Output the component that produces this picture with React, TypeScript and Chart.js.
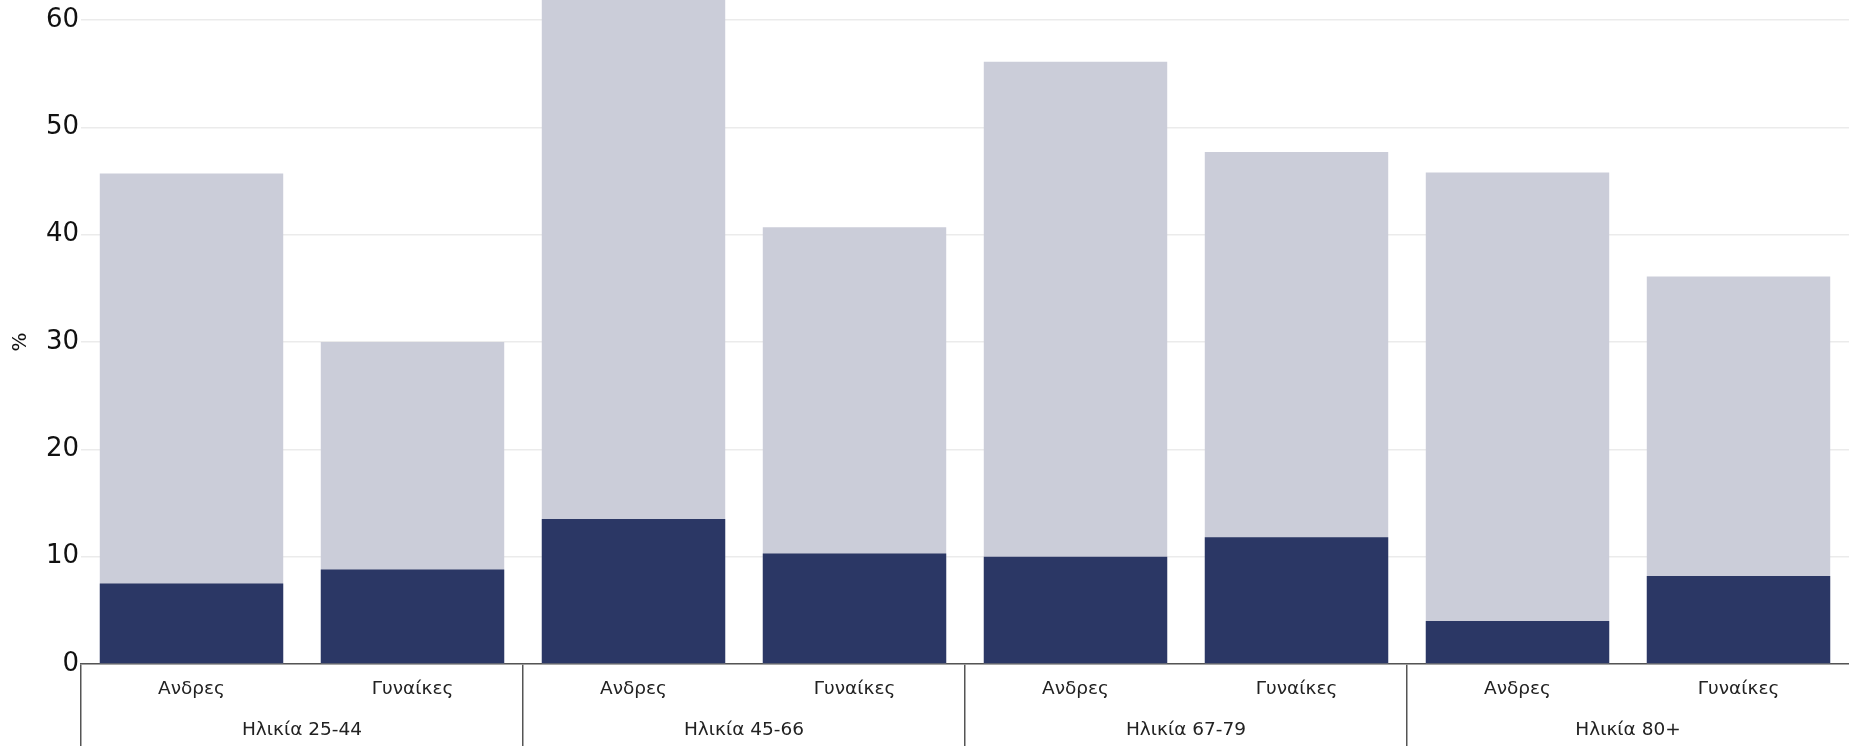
import React, { useEffect, useRef } from "react";
import { Chart, registerables } from "chart.js";

Chart.register(...registerables);

const categories = ["Ανδρες", "Γυναίκες", "Ανδρες", "Γυναίκες", "Ανδρες", "Γυναίκες", "Ανδρες", "Γυναίκες"];
const groups = ["Ηλικία 25-44", "Ηλικία 45-66", "Ηλικία 67-79", "Ηλικία 80+"];
const totalValues = [45.7, 30.0, 63.0, 40.7, 56.1, 47.7, 45.8, 36.1];
const darkValues = [7.5, 8.8, 13.5, 10.3, 10.0, 11.8, 4.0, 8.2];
const yMin = 0;
const yMax = 60;
const yStep = 10;
const yTitle = "%";

const DARK = "#2b3765";
const LIGHT = "#cbcdd9";
const AXIS = "#555555";

export default function App() {
  const canvasRef = useRef<HTMLCanvasElement | null>(null);

  useEffect(() => {
    if (!canvasRef.current) return;
    Chart.defaults.font.family = "'DejaVu Sans', sans-serif";
    const chart = new Chart(canvasRef.current, {
      type: "bar",
      data: {
        labels: categories,
        datasets: [
          {
            label: "dark",
            data: darkValues,
            backgroundColor: DARK,
            borderWidth: 0,
            categoryPercentage: 1,
            barPercentage: 0.83,
            clip: false as any,
          },
          {
            label: "light",
            data: totalValues,
            backgroundColor: LIGHT,
            borderWidth: 0,
            categoryPercentage: 1,
            barPercentage: 0.83,
            clip: false as any,
          },
        ],
      },
      options: {
        animation: false,
        responsive: true,
        maintainAspectRatio: false,
        layout: { padding: { top: 20, right: 0, bottom: 0, left: 0 } },
        plugins: { legend: { display: false }, tooltip: { enabled: false } },
        scales: {
          x: {
            stacked: true,
            offset: true,
            grid: {
              display: true,
              drawOnChartArea: false,
              drawTicks: true,
              tickLength: 82,
              offset: true,
              lineWidth: 1.5,
              color: (ctx: any) =>
                typeof ctx.index === "number" && ctx.index % 2 === 0 ? AXIS : "rgba(0,0,0,0)",
            },
            border: { display: true, color: AXIS, width: 1.5 },
            ticks: {
              font: { size: 18.5 },
              color: "#222222",
              padding: -67.5,
              autoSkip: false,
              maxRotation: 0,
            },
            afterFit: (s: any) => {
              s.height = 34;
            },
          },
          x2: {
            type: "category",
            labels: groups,
            position: "bottom",
            offset: true,
            grid: { display: false, drawTicks: false },
            border: { display: false },
            ticks: {
              font: { size: 18.5 },
              color: "#222222",
              padding: 21.5,
              autoSkip: false,
              maxRotation: 0,
            },
            afterFit: (s: any) => {
              s.height = 48;
            },
          },
          y: {
            min: yMin,
            max: yMax,
            ticks: { stepSize: yStep, font: { size: 26 }, color: "#111111", padding: 2 },
            grid: { color: "#ebebeb", lineWidth: 1.5, drawTicks: false },
            border: { display: false },
            title: {
              display: true,
              text: yTitle,
              font: { size: 20 },
              color: "#111111",
              padding: { top: 9, bottom: 0 },
            },
            afterFit: (s: any) => {
              s.width = 81;
            },
          },
        },
      } as any,
    });
    return () => chart.destroy();
  }, []);

  return (
    <div style={{ position: "absolute", left: 0, top: 0, width: 1849, height: 746, background: "#fff" }}>
      <canvas ref={canvasRef} />
    </div>
  );
}
